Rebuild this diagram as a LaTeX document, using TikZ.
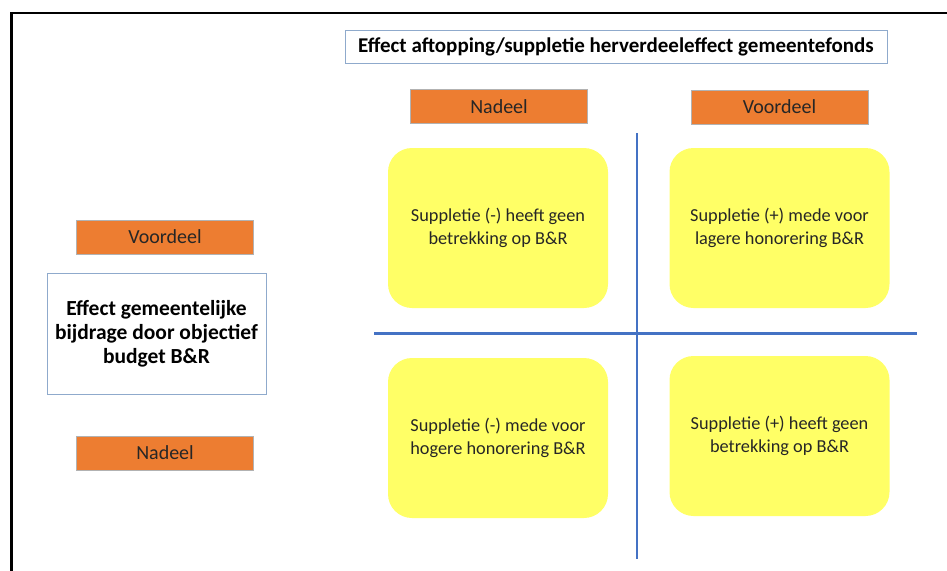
\documentclass[tikz,border=0pt]{standalone}
\usepackage{fontspec}
\setmainfont{Carlito}
\definecolor{orangebox}{HTML}{ED7D31}
\definecolor{yellowbox}{HTML}{FFFF66}
\definecolor{blueline}{HTML}{4472C4}
\definecolor{boxedge}{HTML}{8FAACC}
\definecolor{txt}{HTML}{262626}
\begin{document}
\begin{tikzpicture}[x=1pt,y=-1pt,
  tag/.style={draw=gray!60, line width=0.6pt, fill=orangebox, minimum width=177pt, minimum height=34pt, inner sep=0pt, text=txt, font=\fontsize{20}{24}\selectfont},
  card/.style={fill=yellowbox, rounded corners=24pt, minimum width=220pt, minimum height=160pt, inner sep=0pt, align=center, text=txt, font=\fontsize{18.3}{23}\selectfont},
  whitebox/.style={draw=boxedge, line width=0.8pt, fill=white, inner sep=0pt, align=center, text=black},
  axis/.style={draw=blueline, line width=2.2pt}
]
\useasboundingbox (0,0) rectangle (947,570);
\fill[white] (0,0) rectangle (947,570);
% frame
\draw[line width=2.2pt, black] (11.5,572) -- (11.5,13) -- (949,13);
% title
\node[whitebox, minimum width=542pt, minimum height=33pt, font=\bfseries\fontsize{21}{24}\selectfont] (title) at (616,46.5) {Effect aftopping/suppletie herverdeeleffect gemeentefonds};
% top tags
\node[tag] (nadtop) at (499,106.5) {Nadeel};
\node[tag] (voortop) at (779.5,107) {Voordeel};
% axes
\coordinate (vtop) at (637,133);
\coordinate (vbot) at (637,559);
\coordinate (hleft) at (374,333.5);
\coordinate (hright) at (917,333.5);
\draw[axis] (vtop) -- (vbot);
\draw[axis] (hleft) -- (hright);
% cards
\node[card] (tl) at (498,228) {Suppletie (-) heeft geen\\betrekking op B\&R};
\node[card] (tr) at (779.5,228) {Suppletie (+) mede voor\\lagere honorering B\&R};
\node[card] (bl) at (498,438) {Suppletie (-) mede voor\\hogere honorering B\&R};
\node[card] (br) at (779.5,436) {Suppletie (+) heeft geen\\betrekking op B\&R};
% left side
\node[tag] (voorleft) at (165,237) {Voordeel};
\node[whitebox, minimum width=219pt, minimum height=121pt, font=\bfseries\fontsize{21.5}{24}\selectfont] (effect) at (156.5,333.5) {Effect gemeentelijke\\bijdrage door objectief\\budget B\&R};
\node[tag] (nadleft) at (165,453) {Nadeel};
\end{tikzpicture}
\end{document}
